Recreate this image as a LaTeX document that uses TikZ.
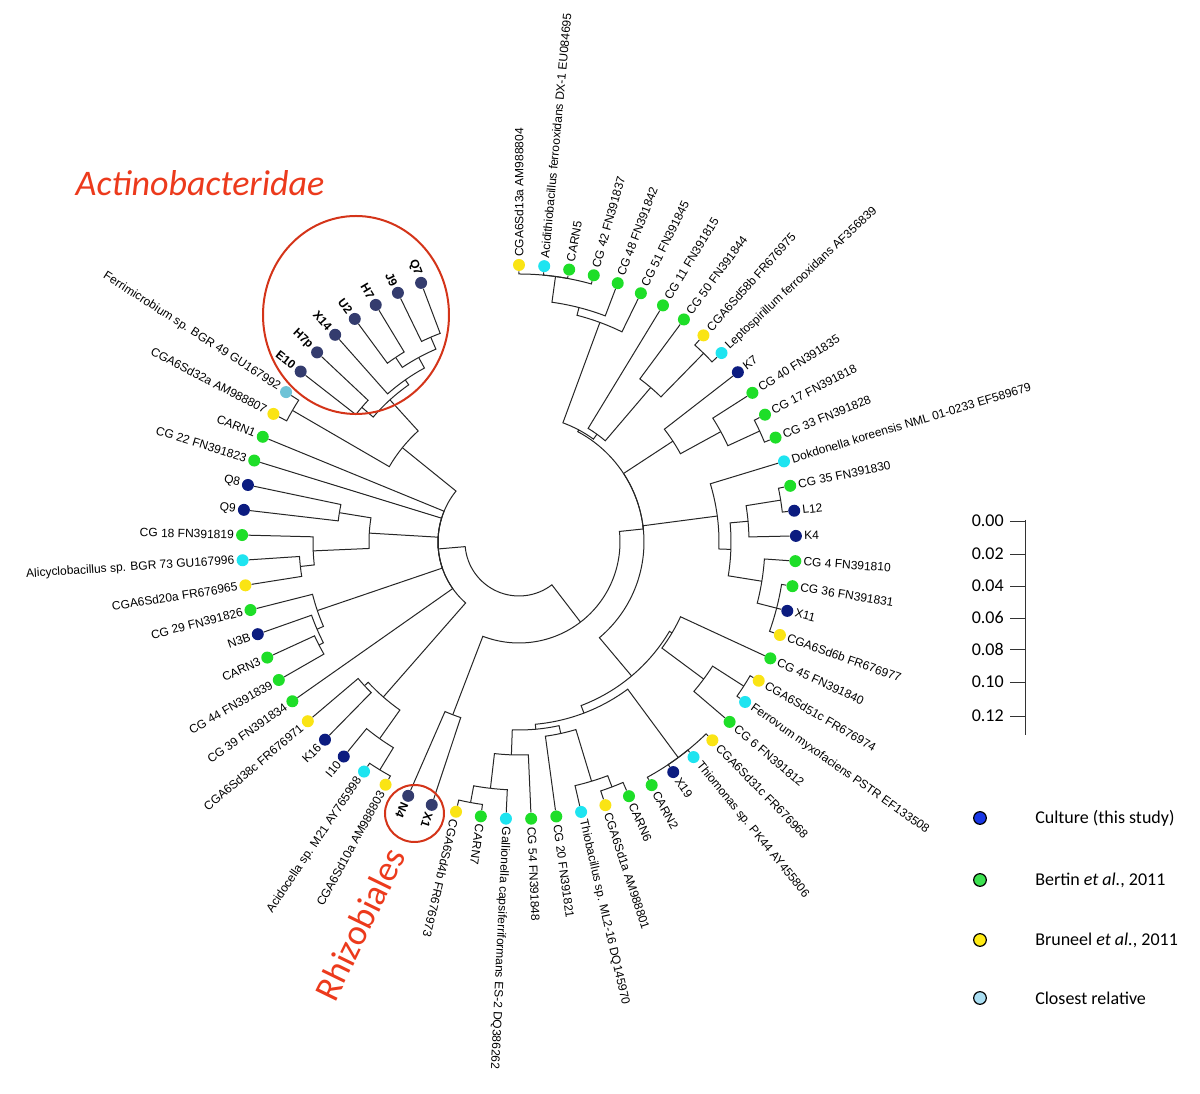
\documentclass[tikz,border=0pt]{standalone}
\usepackage{fontspec}
\setmainfont{Liberation Sans}
\newfontfamily\calib{Carlito}
\definecolor{cgreen}{RGB}{30,222,40}
\definecolor{cyellow}{RGB}{250,228,20}
\definecolor{ccyan}{RGB}{30,228,240}
\definecolor{cnavy}{RGB}{12,28,128}
\definecolor{cslate}{RGB}{52,60,110}
\definecolor{csteel}{RGB}{110,195,215}
\definecolor{cred}{RGB}{236,58,28}
\definecolor{lblue}{RGB}{25,55,230}
\definecolor{lgreen}{RGB}{60,225,80}
\definecolor{lyellow}{RGB}{255,235,20}
\definecolor{lcyan}{RGB}{170,222,242}
% leaf: index, colour, label, font switch
\newcommand\tleaf[4]{%
  \pgfmathsetmacro\lang{90-5.22*(#1-1)}%
  \expandafter\xdef\csname tAl#1\endcsname{\lang}%
  \expandafter\xdef\csname tRl#1\endcsname{277}%
  \node[dot, fill=#2] (l#1) at (\lang:277) {};
  \ifnum#1<41
    \node[lab, anchor=west, rotate=\lang] (t#1) at (\lang:285) {#4#3};
  \else
    \pgfmathsetmacro\rang{\lang+180}%
    \node[lab, anchor=east, rotate=\rang] (t#1) at (\lang:285) {#4#3};
  \fi}
% internal node: name, first child, last child, radius
\newcommand\tnode[4]{%
  \edef\tmpa{\csname tA#2\endcsname}\edef\tmpb{\csname tA#3\endcsname}%
  \pgfmathsetmacro\iang{(\tmpa+\tmpb)/2}%
  \expandafter\xdef\csname tA#1\endcsname{\iang}%
  \expandafter\xdef\csname tR#1\endcsname{#4}%
  \coordinate (#1) at (\iang:#4);}
% branch from parent to child
\newcommand\tbr[2]{%
  \edef\bpa{\csname tA#1\endcsname}\edef\bca{\csname tA#2\endcsname}\edef\bpr{\csname tR#1\endcsname}%
  \draw[branch] (#1) arc[start angle=\bpa, end angle=\bca, radius=\bpr] -- (#2);}
\begin{document}
\begin{tikzpicture}[x=0.75pt,y=0.75pt,
  branch/.style={line width=0.75pt, draw=black!85},
  dot/.style={circle, inner sep=0pt, minimum size=9pt},
  lab/.style={inner sep=0pt, font=\fontsize{9}{10}\selectfont},
  legdot/.style={circle, draw=black, line width=0.9pt, inner sep=0pt, minimum size=9.5pt},
  legtext/.style={anchor=west, inner sep=0pt, font=\calib\fontsize{13.5}{15}\selectfont},
  scaletext/.style={anchor=east, inner sep=0pt, font=\calib\fontsize{13.5}{15}\selectfont},
  redmark/.style={draw=cred!90!black, line width=1.5pt}]
\fill[white] (-519,-552) rectangle (681,542);
\useasboundingbox (-519,-552) rectangle (681,542);

% ---------- leaves ----------
\tleaf{1}{cyellow}{CGA6Sd13a AM988804}{}
\tleaf{2}{ccyan}{Acidithiobacillus ferrooxidans DX-1 EU084695}{}
\tleaf{3}{cgreen}{CARN5}{}
\tleaf{4}{cgreen}{CG 42 FN391837}{}
\tleaf{5}{cgreen}{CG 48 FN391842}{}
\tleaf{6}{cgreen}{CG 51 FN391845}{}
\tleaf{7}{cgreen}{CG 11 FN391815}{}
\tleaf{8}{cgreen}{CG 50 FN391844}{}
\tleaf{9}{cyellow}{CGA6Sd58b FR676975}{}
\tleaf{10}{ccyan}{Leptospirillum ferrooxidans AF356839}{}
\tleaf{11}{cnavy}{K7}{}
\tleaf{12}{cgreen}{CG 40 FN391835}{}
\tleaf{13}{cgreen}{CG 17 FN391818}{}
\tleaf{14}{cgreen}{CG 33 FN391828}{}
\tleaf{15}{ccyan}{Dokdonella koreensis NML 01-0233 EF589679}{}
\tleaf{16}{cgreen}{CG 35 FN391830}{}
\tleaf{17}{cnavy}{L12}{}
\tleaf{18}{cnavy}{K4}{}
\tleaf{19}{cgreen}{CG 4 FN391810}{}
\tleaf{20}{cgreen}{CG 36 FN391831}{}
\tleaf{21}{cnavy}{X11}{}
\tleaf{22}{cyellow}{CGA6Sd6b FR676977}{}
\tleaf{23}{cgreen}{CG 45 FN391840}{}
\tleaf{24}{cyellow}{CGA6Sd51c FR676974}{}
\tleaf{25}{ccyan}{Ferrovum myxofaciens PSTR EF133508}{}
\tleaf{26}{cgreen}{CG 6 FN391812}{}
\tleaf{27}{cyellow}{CGA6Sd31c FR676968}{}
\tleaf{28}{ccyan}{Thiomonas sp. PK44 AY455806}{}
\tleaf{29}{cnavy}{X19}{}
\tleaf{30}{cgreen}{CARN2}{}
\tleaf{31}{cgreen}{CARN6}{}
\tleaf{32}{cyellow}{CGA6Sd1a AM988801}{}
\tleaf{33}{ccyan}{Thiobacillus sp. ML2-16 DQ145970}{}
\tleaf{34}{cgreen}{CG 20 FN391821}{}
\tleaf{35}{cgreen}{CG 54 FN391848}{}
\tleaf{36}{ccyan}{Gallionella capsiferriformans ES-2 DQ386262}{}
\tleaf{37}{cgreen}{CARN7}{}
\tleaf{38}{cyellow}{CGA6Sd4b FR676973}{}
\tleaf{39}{cslate}{X1}{\bfseries}
\tleaf{40}{cslate}{N4}{\bfseries}
\tleaf{41}{cyellow}{CGA6Sd10a AM988803}{}
\tleaf{42}{ccyan}{Acidocella sp. M21 AY765998}{}
\tleaf{43}{cnavy}{I10}{}
\tleaf{44}{cnavy}{K16}{}
\tleaf{45}{cyellow}{CGA6Sd38c FR676971}{}
\tleaf{46}{cgreen}{CG 39 FN391834}{}
\tleaf{47}{cgreen}{CG 44 FN391839}{}
\tleaf{48}{cgreen}{CARN3}{}
\tleaf{49}{cnavy}{N3B}{}
\tleaf{50}{cgreen}{CG 29 FN391826}{}
\tleaf{51}{cyellow}{CGA6Sd20a FR676965}{}
\tleaf{52}{ccyan}{Alicyclobacillus sp. BGR 73 GU167996}{}
\tleaf{53}{cgreen}{CG 18 FN391819}{}
\tleaf{54}{cnavy}{Q9}{}
\tleaf{55}{cnavy}{Q8}{}
\tleaf{56}{cgreen}{CG 22 FN391823}{}
\tleaf{57}{cgreen}{CARN1}{}
\tleaf{58}{cyellow}{CGA6Sd32a AM988807}{}
\tleaf{59}{csteel}{Ferrimicrobium sp. BGR 49 GU167992}{}
\tleaf{60}{cslate}{E10}{\bfseries}
\tleaf{61}{cslate}{H7p}{\bfseries}
\tleaf{62}{cslate}{X14}{\bfseries}
\tleaf{63}{cslate}{U2}{\bfseries}
\tleaf{64}{cslate}{H7}{\bfseries}
\tleaf{65}{cslate}{J9}{\bfseries}
\tleaf{66}{cslate}{Q7}{\bfseries}

% ---------- internal nodes ----------
\tnode{N1}{l1}{l4}{268}
\tnode{N2}{N1}{l5}{242}
\tnode{N3}{N2}{l6}{234}
\tnode{R1}{l9}{l10}{264}
\tnode{R}{l8}{R1}{203}
\tnode{Qr}{l7}{R}{133}
\tnode{P}{N3}{Qr}{127}
\tnode{S3}{l13}{l14}{265}
\tnode{S2}{l12}{S3}{230}
\tnode{S1}{l11}{S2}{184}
\tnode{D5}{l16}{l17}{265}
\tnode{D3}{D5}{l18}{230}
\tnode{D6}{l20}{l22}{266}
\tnode{D4}{l19}{D6}{246}
\tnode{D2}{D3}{D4}{212}
\tnode{D}{l15}{D2}{200}
\tnode{E21}{l24}{l25}{267}
\tnode{E2}{E21}{l26}{230}
\tnode{E1}{l23}{E2}{178}
\tnode{X}{l27}{l30}{268}
\tnode{Bl3}{l37}{l38}{265}
\tnode{Bl2}{l36}{Bl3}{248}
\tnode{Bl1}{l35}{Bl2}{213}
\tnode{Br3}{l31}{l32}{262}
\tnode{Br2}{Br3}{l33}{250}
\tnode{Br}{Br2}{l34}{196}
\tnode{B}{Br}{Bl1}{188}
\tnode{Mx}{X}{B}{183}
\tnode{M}{E1}{Mx}{175}
\tnode{RR}{P}{M}{125}
\tnode{NX}{l39}{l40}{185}
\tnode{K}{RR}{NX}{101}
\tnode{AC1}{l65}{l66}{223}
\tnode{AC2}{l63}{l64}{222}
\tnode{AC3}{AC2}{AC1}{210}
\tnode{AC4}{l62}{AC3}{198}
\tnode{AC5}{l60}{l61}{207}
\tnode{AC6}{AC5}{AC4}{192}
\tnode{S58}{l58}{l59}{262}
\tnode{A}{S58}{AC6}{150}
\tnode{QA}{l51}{l52}{220}
\tnode{QC}{QA}{l53}{206}
\tnode{Q89}{l54}{l55}{182}
\tnode{Q}{QC}{Q89}{150}
\tnode{G3}{l47}{l48}{225}
\tnode{G2}{G3}{l49}{220}
\tnode{G1}{G2}{l50}{213}
\tnode{H4}{l41}{l42}{267}
\tnode{H3}{H4}{l43}{241}
\tnode{H2}{l44}{l45}{211}
\tnode{H1}{H3}{H2}{206}
\tnode{L}{H1}{A}{81}
\tnode{Z}{L}{K}{54}

% ---------- branches ----------
\tbr{N1}{l1}\tbr{N1}{l2}\tbr{N1}{l3}\tbr{N1}{l4}
\tbr{N2}{N1}\tbr{N2}{l5}
\tbr{N3}{N2}\tbr{N3}{l6}
\tbr{R1}{l9}\tbr{R1}{l10}
\tbr{R}{l8}\tbr{R}{R1}
\tbr{Qr}{l7}\tbr{Qr}{R}
\tbr{P}{N3}\tbr{P}{Qr}
\tbr{S3}{l13}\tbr{S3}{l14}
\tbr{S2}{l12}\tbr{S2}{S3}
\tbr{S1}{l11}\tbr{S1}{S2}
\tbr{D5}{l16}\tbr{D5}{l17}
\tbr{D3}{D5}\tbr{D3}{l18}
\tbr{D6}{l20}\tbr{D6}{l21}\tbr{D6}{l22}
\tbr{D4}{l19}\tbr{D4}{D6}
\tbr{D2}{D3}\tbr{D2}{D4}
\tbr{D}{l15}\tbr{D}{D2}
\tbr{E21}{l24}\tbr{E21}{l25}
\tbr{E2}{E21}\tbr{E2}{l26}
\tbr{E1}{l23}\tbr{E1}{E2}
\tbr{X}{l27}\tbr{X}{l28}\tbr{X}{l29}\tbr{X}{l30}
\tbr{Bl3}{l37}\tbr{Bl3}{l38}
\tbr{Bl2}{l36}\tbr{Bl2}{Bl3}
\tbr{Bl1}{l35}\tbr{Bl1}{Bl2}
\tbr{Br3}{l31}\tbr{Br3}{l32}
\tbr{Br2}{Br3}\tbr{Br2}{l33}
\tbr{Br}{Br2}\tbr{Br}{l34}
\tbr{B}{Br}\tbr{B}{Bl1}
\tbr{Mx}{X}\tbr{Mx}{B}
\tbr{M}{E1}\tbr{M}{Mx}
\tbr{RR}{P}\tbr{RR}{S1}\tbr{RR}{D}\tbr{RR}{M}
\tbr{NX}{l39}\tbr{NX}{l40}
\tbr{K}{RR}\tbr{K}{NX}
\tbr{AC1}{l65}\tbr{AC1}{l66}
\tbr{AC2}{l63}\tbr{AC2}{l64}
\tbr{AC3}{AC2}\tbr{AC3}{AC1}
\tbr{AC4}{l62}\tbr{AC4}{AC3}
\tbr{AC5}{l60}\tbr{AC5}{l61}
\tbr{AC6}{AC5}\tbr{AC6}{AC4}
\tbr{S58}{l58}\tbr{S58}{l59}
\tbr{A}{S58}\tbr{A}{AC6}
\tbr{QA}{l51}\tbr{QA}{l52}
\tbr{QC}{QA}\tbr{QC}{l53}
\tbr{Q89}{l54}\tbr{Q89}{l55}
\tbr{Q}{QC}\tbr{Q}{Q89}
\tbr{G3}{l47}\tbr{G3}{l48}
\tbr{G2}{G3}\tbr{G2}{l49}
\tbr{G1}{G2}\tbr{G1}{l50}
\tbr{H4}{l41}\tbr{H4}{l42}
\tbr{H3}{H4}\tbr{H3}{l43}
\tbr{H2}{l44}\tbr{H2}{l45}
\tbr{H1}{H3}\tbr{H1}{H2}
\tbr{L}{H1}\tbr{L}{l46}\tbr{L}{G1}\tbr{L}{Q}\tbr{L}{l56}\tbr{L}{l57}\tbr{L}{A}
\tbr{Z}{L}\tbr{Z}{K}

% ---------- red annotations ----------
\draw[redmark] (-163,227) ellipse[x radius=93, y radius=99];
\draw[redmark] (-104.5,-271.5) ellipse[x radius=29.5, y radius=28.5];
\node[text=cred, inner sep=0pt, font=\calib\itshape\fontsize{27}{30}\selectfont] (actino) at (-319,359) {Actinobacteridae};
\node[text=cred, inner sep=0pt, rotate=64, font=\calib\fontsize{27}{30}\selectfont] (rhizo) at (-159,-382) {Rhizobiales};

% ---------- scale bar ----------
\coordinate (sTop) at (506,22);
\coordinate (sBot) at (506,-193);
\draw[line width=0.7pt, black!80] (sTop) -- (sBot);
\foreach \yy/\vv [count=\k] in {21/0.00,-12/0.02,-44/0.04,-76/0.06,-107/0.08,-140/0.10,-174/0.12}{
  \coordinate (tk\k) at (491,\yy);
  \draw[line width=0.7pt, black!80] (tk\k) -- ++(15,0);
  \node[scaletext] (sv\k) at (485,\yy) {\vv};
}

% ---------- legend ----------
\node[legdot, fill=lblue] (ld1) at (461,-276) {};
\node[legtext] (lt1) at (516,-276) {Culture (this study)};
\node[legdot, fill=lgreen] (ld2) at (461,-338) {};
\node[legtext] (lt2) at (516,-338) {Bertin \textit{et al.}, 2011};
\node[legdot, fill=lyellow] (ld3) at (461,-398) {};
\node[legtext] (lt3) at (516,-398) {Bruneel \textit{et al.}, 2011};
\node[legdot, fill=lcyan] (ld4) at (461,-456) {};
\node[legtext] (lt4) at (516,-456) {Closest relative};
\end{tikzpicture}
\end{document}
